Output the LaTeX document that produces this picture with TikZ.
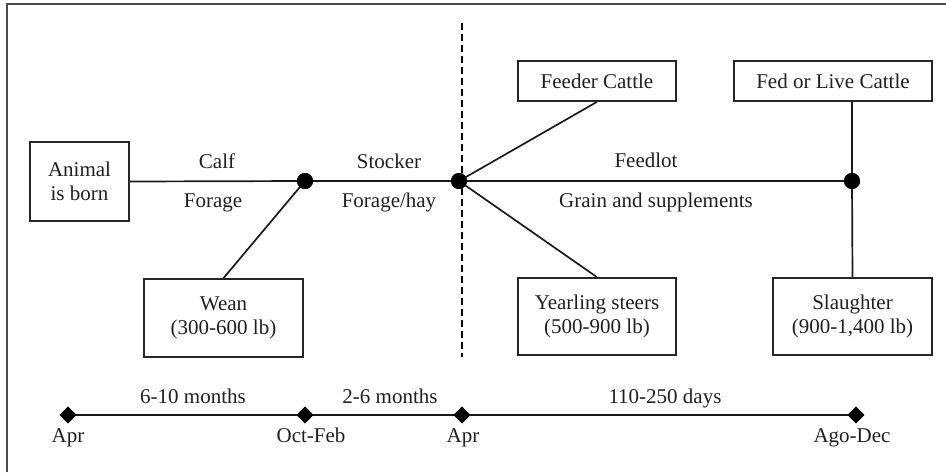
\documentclass[tikz,border=0pt]{standalone}
\usepackage{fontspec}
\setmainfont{Liberation Serif}
\usetikzlibrary{shapes.geometric}
\begin{document}
\begin{tikzpicture}[x=1pt,y=-1pt,
  every node/.style={font=\fontsize{21}{24}\selectfont, text=black!88},
  box/.style={draw=black!85, line width=1.7pt, rectangle, inner sep=0pt, align=center},
  dot/.style={circle, fill=black, inner sep=0pt, minimum size=16pt},
  tick/.style={diamond, fill=black, inner sep=0pt, minimum width=17pt, minimum height=17pt},
  conn/.style={line width=1.7pt, draw=black!90},
  lab/.style={anchor=base, inner sep=0pt}
]
\useasboundingbox (0,0) rectangle (946,472);
% frame (top and left edges visible)
\draw[line width=2.2pt, draw=black!70] (7,472) -- (7,4) -- (946,4);

% boxes
\node[box, minimum width=99pt, minimum height=79pt] (animal) at (79.5,181.5) {Animal\\is born};
\node[box, minimum width=159pt, minimum height=78pt] (wean) at (223.5,318) {Wean\\(300-600 lb)};
\node[box, minimum width=158pt, minimum height=40pt] (feeder) at (597,81) {Feeder Cattle};
\node[box, minimum width=198pt, minimum height=40pt] (fed) at (833,81) {Fed or Live Cattle};
\node[box, minimum width=158pt, minimum height=77pt] (yearling) at (597,316.5) {Yearling steers\\(500-900 lb)};
\node[box, minimum width=159pt, minimum height=77pt] (slaughter) at (852.5,316.5) {Slaughter\\(900-1,400 lb)};

% junction dots
\node[dot] (d1) at (305,181) {};
\node[dot] (d2) at (459,181) {};
\node[dot] (d3) at (852,181) {};

% dashed divider
\coordinate (dtop) at (462,23);
\coordinate (dbot) at (462,357);
\draw[line width=1.4pt, dash pattern=on 7pt off 4pt] (dtop) -- (dbot);

% connectors
\draw[conn] (animal.east) -- (d1.center) -- (d2.center) -- (d3.center);
\draw[conn] (d1.center) -- (wean.north);
\draw[conn] (d2.center) -- (feeder.south);
\draw[conn] (d2.center) -- (yearling.north);
\draw[conn] (fed.south -| d3) -- (d3.center) -- (slaughter.north);

% redraw dots on top
\node[dot] at (d1) {};
\node[dot] at (d2) {};
\node[dot] at (d3) {};

% stage labels
\node[lab] (calf) at (217,168) {Calf};
\node[lab] (forage) at (213,207) {Forage};
\node[lab] (stocker) at (389,168) {Stocker};
\node[lab] (foragehay) at (389,207) {Forage/hay};
\node[lab] (feedlot) at (646,167) {Feedlot};
\node[lab] (grain) at (656,207) {Grain and supplements};

% timeline
\node[tick] (t1) at (68,415) {};
\node[tick] (t2) at (305,415) {};
\node[tick] (t3) at (462,415) {};
\node[tick] (t4) at (856,415) {};
\draw[conn] (t1.center) -- (t4.center);
\node[tick] at (t1) {};
\node[tick] at (t2) {};
\node[tick] at (t3) {};
\node[tick] at (t4) {};

\node[lab] (m1) at (193,403) {6-10 months};
\node[lab] (m2) at (390,403) {2-6 months};
\node[lab] (m3) at (665,403) {110-250 days};
\node[lab] (apr1) at (68,442) {Apr};
\node[lab] (octfeb) at (311,442) {Oct-Feb};
\node[lab] (apr2) at (463,442) {Apr};
\node[lab] (agodec) at (852,442) {Ago-Dec};
\end{tikzpicture}
\end{document}
